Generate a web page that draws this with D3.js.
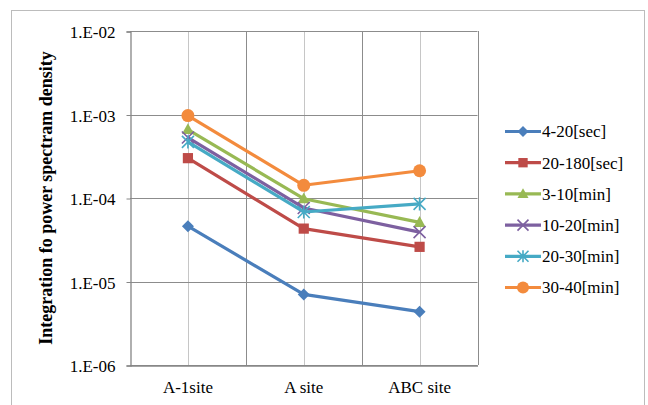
<!DOCTYPE html>
<html>
<head>
<meta charset="utf-8">
<script src="https://cdn.jsdelivr.net/npm/d3@7"></script>
<style>
  html, body { margin: 0; padding: 0; background: #fff; }
  svg { display: block; }
  svg text { font-family: "Liberation Serif", "Times New Roman", "DejaVu Serif", serif !important; fill: #000; }
</style>
</head>
<body>
<svg id="chart" width="648" height="405"></svg>
<script>
// Sites along the horizontal axis
const categories = ["A-1site", "A site", "ABC site"];

// Series names and their integrated PSD values per site
const seriesNames = ["4-20[sec]", "20-180[sec]", "3-10[min]", "10-20[min]", "20-30[min]", "30-40[min]"];
const sec4to20   = [4.6e-5, 7.0e-6, 4.35e-6];
const sec20to180 = [3.0e-4, 4.3e-5, 2.6e-5];
const min3to10   = [6.6e-4, 9.8e-5, 5.1e-5];
const min10to20  = [5.3e-4, 7.6e-5, 3.9e-5];
const min20to30  = [4.7e-4, 6.8e-5, 8.5e-5];
const min30to40  = [9.7e-4, 1.42e-4, 2.12e-4];
const seriesValues = [sec4to20, sec20to180, min3to10, min10to20, min20to30, min30to40];

// Y-axis tick values and labels
const yTicks = [1e-6, 1e-5, 1e-4, 1e-3, 1e-2];
const yTickLabels = ["1.E-06", "1.E-05", "1.E-04", "1.E-03", "1.E-02"];

const colors = ["#4a7ebb", "#be4b48", "#98b954", "#7d60a0", "#46aac5", "#f38b3d"];
const shapes = ["diamond", "square", "triangle", "x", "star", "circle"];

const svg = d3.select("#chart");

// Outer chart frame
svg.append("rect")
  .attr("x", 11.5).attr("y", 10.5)
  .attr("width", 633).attr("height", 420)
  .attr("fill", "#fff").attr("stroke", "#bcbcbc").attr("stroke-width", 1);

const plot = { left: 130, top: 31, right: 477.5, bottom: 365 };

const x = d3.scaleBand().domain(categories).range([plot.left, plot.right]);
const y = d3.scaleLog().domain([1e-6, 1e-2]).range([plot.bottom, plot.top]);
const cx = c => x(c) + x.bandwidth() / 2;

const g = svg.append("g");

// Light vertical gridlines at category centres
g.selectAll("line.vminor").data(categories).enter().append("line")
  .attr("x1", d => Math.round(cx(d)) + 0.5).attr("x2", d => Math.round(cx(d)) + 0.5)
  .attr("y1", plot.top).attr("y2", plot.bottom)
  .attr("stroke", "#c6c6c6").attr("stroke-width", 1);

// Darker vertical gridlines at category boundaries
const bounds = categories.slice(1).map(c => x(c)).concat([plot.right]);
g.selectAll("line.vmajor").data(bounds).enter().append("line")
  .attr("x1", d => Math.round(d) + 0.5).attr("x2", d => Math.round(d) + 0.5)
  .attr("y1", plot.top).attr("y2", plot.bottom)
  .attr("stroke", "#8c8c8c").attr("stroke-width", 1);

// Horizontal gridlines at each decade
g.selectAll("line.hgrid").data(yTicks).enter().append("line")
  .attr("x1", plot.left).attr("x2", plot.right)
  .attr("y1", d => Math.round(y(d)) + 0.5).attr("y2", d => Math.round(y(d)) + 0.5)
  .attr("stroke", "#8c8c8c").attr("stroke-width", 1);

// Y axis
const yAxis = d3.axisLeft(y).tickValues(yTicks)
  .tickFormat((d, i) => yTickLabels[i]).tickSize(4).tickPadding(11);
const ya = svg.append("g").attr("transform", `translate(${plot.left + 0.5},0.5)`).call(yAxis);
ya.attr("font-family", null);
ya.select(".domain").attr("stroke", "#868686").attr("stroke-width", 1.3);
ya.selectAll(".tick line").attr("stroke", "#868686");
ya.selectAll(".tick text").style("font-size", "17px").attr("fill", "#000").attr("dy", "0.36em");

// X axis (category labels, no ticks)
const xAxis = d3.axisBottom(x).tickSize(0).tickPadding(15);
const xa = svg.append("g").attr("transform", `translate(0,${plot.bottom + 0.5})`).call(xAxis);
xa.attr("font-family", null);
xa.select(".domain").attr("stroke", "#868686").attr("stroke-width", 1.3);
xa.selectAll(".tick text").style("font-size", "17px").attr("fill", "#000");

// Y axis title
svg.append("text")
  .attr("transform", `translate(51.5,${(plot.top + plot.bottom) / 2}) rotate(-90)`)
  .attr("text-anchor", "middle")
  .style("font-size", "18px").style("font-weight", "bold")
  .text("Integration fo power spectram density");

// Marker drawing
function drawMarker(sel, shape, color, size) {
  const s = size;
  if (shape === "diamond") {
    sel.append("path").attr("d", `M0,${-s}L${s},0L0,${s}L${-s},0Z`).attr("fill", color);
  } else if (shape === "square") {
    sel.append("rect").attr("x", -s * 0.85).attr("y", -s * 0.85)
      .attr("width", s * 1.7).attr("height", s * 1.7).attr("fill", color);
  } else if (shape === "triangle") {
    sel.append("path").attr("d", `M0,${-s * 1.05}L${s},${s * 0.75}L${-s},${s * 0.75}Z`).attr("fill", color);
  } else if (shape === "x") {
    sel.append("path").attr("d", `M${-s},${-s}L${s},${s}M${-s},${s}L${s},${-s}`)
      .attr("stroke", color).attr("stroke-width", 1.6).attr("fill", "none");
  } else if (shape === "star") {
    sel.append("path").attr("d", `M${-s},${-s}L${s},${s}M${-s},${s}L${s},${-s}M0,${-s * 1.1}L0,${s * 1.1}`)
      .attr("stroke", color).attr("stroke-width", 1.6).attr("fill", "none");
  } else {
    sel.append("circle").attr("r", s).attr("fill", color);
  }
}

const line = d3.line().x((d, i) => cx(categories[i])).y(d => y(d));

// Series lines and markers
seriesValues.forEach((vals, k) => {
  const sg = svg.append("g");
  sg.append("path").datum(vals).attr("d", line)
    .attr("fill", "none").attr("stroke", colors[k]).attr("stroke-width", 3.2)
    .attr("stroke-linejoin", "round");
  vals.forEach((v, i) => {
    const m = sg.append("g").attr("transform", `translate(${cx(categories[i])},${y(v)})`);
    drawMarker(m, shapes[k], colors[k], k === 5 ? 6.5 : 6);
  });
});

// Legend
const legend = svg.append("g");
const legendY0 = 131.5, legendStep = 31.2;
seriesNames.forEach((name, k) => {
  const ly = legendY0 + k * legendStep;
  const lg = legend.append("g").attr("transform", `translate(0,${ly})`);
  lg.append("line").attr("x1", 505).attr("x2", 541).attr("y1", 0).attr("y2", 0)
    .attr("stroke", colors[k]).attr("stroke-width", 3.2);
  const m = lg.append("g").attr("transform", "translate(523,0)");
  drawMarker(m, shapes[k], colors[k], k === 5 ? 6 : 5.5);
  lg.append("text").attr("x", 542).attr("y", 0).attr("dy", "0.35em")
    .style("font-size", "17px").text(name);
});
</script>
</body>
</html>
